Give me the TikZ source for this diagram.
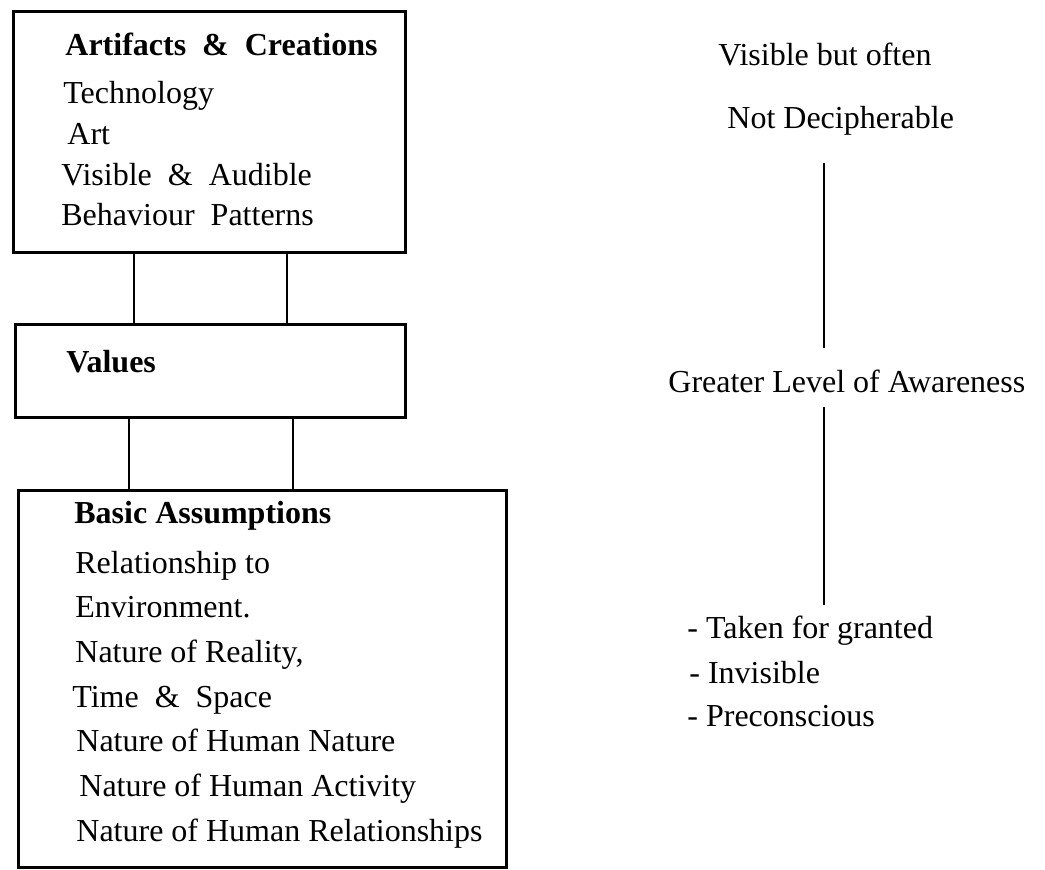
\documentclass[tikz,border=0pt]{standalone}
\usepackage{fontspec}
\setmainfont{Liberation Serif}
\usepackage{tikz}

\begin{document}
\begin{tikzpicture}[x=0.5pt, y=-0.5pt, font=\fontsize{16}{19}\selectfont]
    \tikzstyle{layerbox} = [rectangle, draw, line width=1.5pt, inner sep=0pt, anchor=north west]
    \tikzstyle{boxtext} = [anchor=base west, inner sep=0pt]
    \tikzstyle{boxtitle} = [boxtext, font=\fontsize{16}{19}\selectfont\bfseries]
    \tikzstyle{linkline} = [line width=1pt]

    \useasboundingbox (0,0) rectangle (1045,869);

    % Layer boxes
    \node[layerbox, minimum width=196pt, minimum height=120.5pt] (artbox) at (12,10) {};
    \node[layerbox, minimum width=195pt, minimum height=46.5pt] (valbox) at (14,323) {};
    \node[layerbox, minimum width=244pt, minimum height=188.5pt] (asmbox) at (17,489) {};

    % Links between the layers
    \foreach \a/\b in {61pt/60pt, 137.5pt/136.5pt}
        \draw[linkline] ([xshift=\a]artbox.south west) -- ([xshift=\b]valbox.north west);
    \foreach \a/\b in {57.5pt/56pt, 139.5pt/138pt}
        \draw[linkline] ([xshift=\a]valbox.south west) -- ([xshift=\b]asmbox.north west);

    % Artifacts
    \node[boxtitle] (arttitle) at (65,55) {Artifacts\ \ \&\ \ Creations};
    \node[boxtext] (tech) at (63,103) {Technology};
    \node[boxtext] (art) at (67,144) {Art};
    \node[boxtext] (visaud) at (61,185) {Visible\ \ \&\ \ Audible};
    \node[boxtext] (behav) at (61,225) {Behaviour\ \ Patterns};

    % Values
    \node[boxtitle] (valtitle) at (66,372) {Values};

    % Basic assumptions
    \node[boxtitle] (asmtitle) at (74,523) {Basic Assumptions};
    \node[boxtext] (relto) at (75,573) {Relationship to};
    \node[boxtext] (envir) at (75,617) {Environment.};
    \node[boxtext] (reality) at (75,662) {Nature of Reality,};
    \node[boxtext] (timesp) at (72,707) {Time\ \ \&\ \ Space};
    \node[boxtext] (humnat) at (76,751) {Nature of Human Nature};
    \node[boxtext] (humact) at (79,796) {Nature of Human Activity};
    \node[boxtext] (humrel) at (76,841) {Nature of Human Relationships};

    % Awareness scale
    \node[boxtext] (visoften) at (718,65) {Visible but often};
    \node[boxtext] (notdec) at (727,128) {Not Decipherable};
    \node[boxtext] (greater) at (668,392) {Greater Level of Awareness};
    \node[boxtext] (taken) at (687,638) {- Taken for granted};
    \node[boxtext] (invis) at (689,683) {- Invisible};
    \node[boxtext] (precon) at (687,726) {- Preconscious};

    \coordinate (axtop) at (824,163);
    \coordinate (axupper) at (824,348);
    \coordinate (axlower) at (824,407);
    \coordinate (axbot) at (824,605);
    \draw[linkline] (axtop) -- (axupper);
    \draw[linkline] (axlower) -- (axbot);
\end{tikzpicture}
\end{document}
